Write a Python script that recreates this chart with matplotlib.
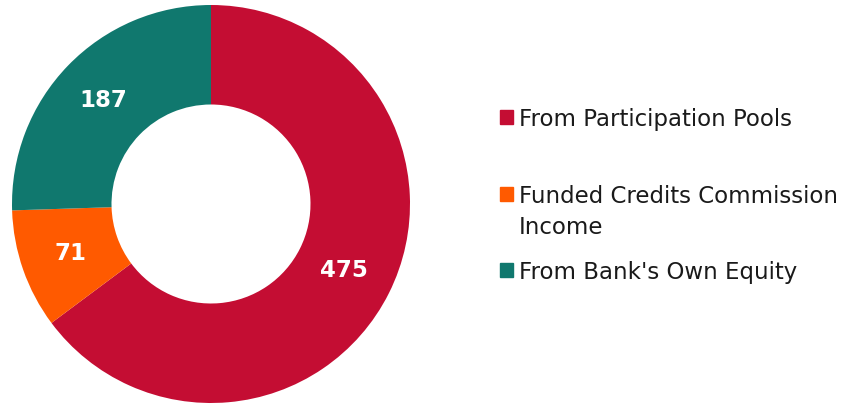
import matplotlib.pyplot as plt

categories = ["From Participation Pools", "Funded Credits Commission\nIncome", "From Bank's Own Equity"]
values = [475, 71, 187]
colors = ["#C40D33", "#FF5A00", "#10786E"]

fig = plt.figure(figsize=(8.52, 4.04), dpi=100)

# donut sits on the left, centred at (211, 204) px with radius 199 px
ax = fig.add_axes([12 / 852, 1 / 404, 398 / 852, 398 / 404])
wedges, texts = ax.pie(
    values, colors=colors, startangle=90, counterclock=False,
    radius=1.0, wedgeprops=dict(width=0.5, linewidth=0),
    labels=[str(v) for v in values], labeldistance=0.75,
)
for t in texts:
    t.set_color("white")
    t.set_fontsize(16.5)
    t.set_fontweight("bold")
    t.set_ha("center")
    t.set_va("center")
ax.set_xlim(-1, 1)
ax.set_ylim(-1, 1)
ax.set_aspect("equal")
ax.axis("off")

# legend entries placed by hand (uneven spacing)
baselines = [126, 203, 279]
line_step = 31
for label, color, yb in zip(categories, colors, baselines):
    fig.patches.append(plt.Rectangle((500 / 852, 1 - (yb - 2) / 404), 13 / 852, 14 / 404,
                                     transform=fig.transFigure, color=color, figure=fig))
    for i, line in enumerate(label.split("\n")):
        fig.text(519 / 852, 1 - (yb + i * line_step) / 404, line, fontsize=16.5,
                 color="#1a1a1a", ha="left", va="baseline")

fig.savefig("out.png", dpi=100)
